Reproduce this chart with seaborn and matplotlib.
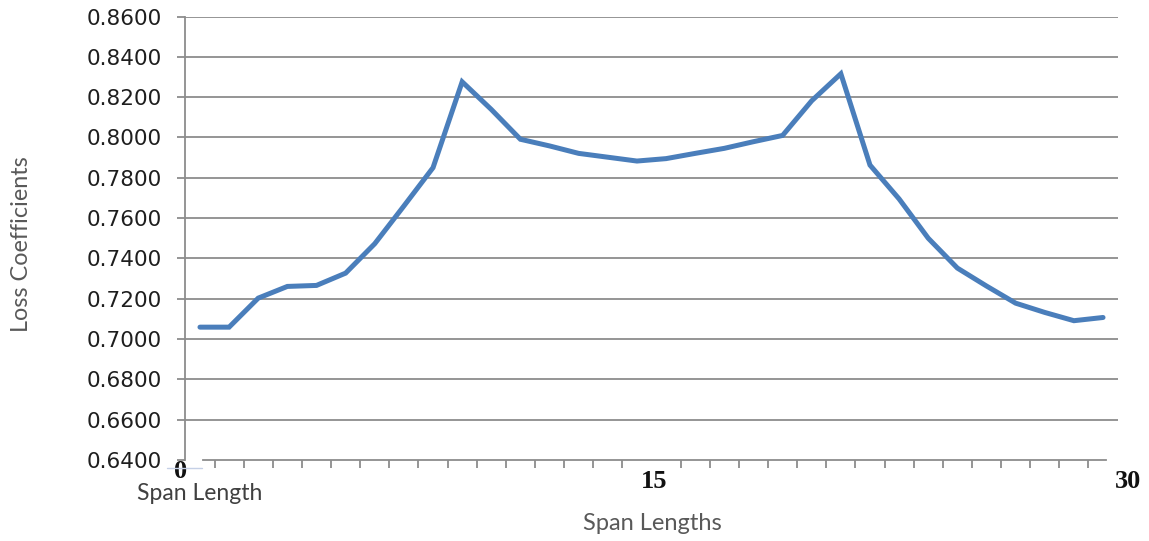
import numpy as np
import pandas as pd
import matplotlib
matplotlib.use("Agg")
import matplotlib.pyplot as plt
import matplotlib.transforms as mtransforms
from matplotlib.lines import Line2D
import seaborn as sns

# Loss coefficient for each span position along the structure
span_position = list(range(32))
loss_coefficient = [
    0.7059, 0.7059, 0.7203, 0.7261, 0.7266, 0.7327, 0.7473, 0.7660,
    0.7850, 0.8276, 0.8139, 0.7991, 0.7958, 0.7921, 0.7902, 0.7883,
    0.7895, 0.7921, 0.7946, 0.7979, 0.8010, 0.8182, 0.8316, 0.7863,
    0.7695, 0.7500, 0.7352, 0.7263, 0.7178, 0.7132, 0.7091, 0.7107,
]
y_ticks = [0.64, 0.66, 0.68, 0.70, 0.72, 0.74, 0.76, 0.78, 0.80, 0.82, 0.84, 0.86]
span_ticks = [0, 15, 30]

df = pd.DataFrame({"span": span_position, "loss": loss_coefficient})

sns.set_theme(style="white")
plt.rcParams["font.family"] = ["DejaVu Sans"]

W, H = 1149, 541
fig = plt.figure(figsize=(W / 100, H / 100), dpi=100)

grid_grey = "#8c8c8c"
title_grey = "#595959"
line_blue = "#4a7ebb"

# main plotting area
ax = fig.add_axes([185.4 / W, (H - 460) / H, (1117.6 - 185.4) / W, (460 - 16.5) / H])
sns.lineplot(data=df, x="span", y="loss", ax=ax, color=line_blue,
             linewidth=3.6, solid_joinstyle="miter", legend=False)

ax.set_xlim(-0.5, 31.5)
ax.set_ylim(0.64, 0.86)
ax.set_yticks(y_ticks)
ax.set_yticklabels([f"{v:.4f}" for v in y_ticks])
ax.tick_params(axis="y", direction="out", length=5.8, width=1.3, color=grid_grey,
               labelsize=15.5, labelcolor="#1e1e1e", pad=11, left=True)
ax.grid(axis="y", color=grid_grey, linewidth=1.3)
ax.grid(axis="x", visible=False)
ax.yaxis.get_major_ticks()[0].gridline.set_visible(False)

# category boundary ticks along the bottom axis
boundary_ticks = [i + 0.5 for i in range(31) if i != 15]
ax.set_xticks(boundary_ticks)
ax.set_xticklabels([""] * len(boundary_ticks))
ax.tick_params(axis="x", direction="out", length=5.8, width=1.3, color=grid_grey,
               bottom=True)

for side in ["top", "right"]:
    ax.spines[side].set_visible(False)
ax.spines["left"].set_color(grid_grey)
ax.spines["left"].set_linewidth(1.3)
ax.spines["bottom"].set_color(grid_grey)
ax.spines["bottom"].set_linewidth(1.3)
ax.spines["bottom"].set_bounds(0.09, 31.1)
ax.set_xlabel("")
ax.set_ylabel("")

# secondary value scale for span length labels
ax2 = fig.add_axes([181 / W, (H - 460) / H, (1128 - 181) / W, (460 - 16.5) / H])
ax2.patch.set_visible(False)
for s in ax2.spines.values():
    s.set_visible(False)
ax2.set_xlim(0, 30)
ax2.set_yticks([])
ax2.set_xticks(span_ticks)
ax2.set_xticklabels([str(t) for t in span_ticks], fontfamily="Liberation Serif",
                    fontweight="bold", fontsize=19, color="#111111")
ax2.tick_params(axis="x", length=0, pad=7)
ax2.grid(False)
lbl0 = ax2.get_xticklabels()[0]
lbl0.set_transform(lbl0.get_transform() +
                   mtransforms.ScaledTranslation(0, 10 / 100, fig.dpi_scale_trans))

# axis titles
fig.text(22 / W, 1 - 244 / H, "Loss Coefficients", rotation=90, ha="center",
         va="center", fontfamily="Lato", fontsize=16.8, color=title_grey)
fig.text(652 / W, 1 - 523 / H, "Span Lengths", ha="center", va="center",
         fontfamily="Lato", fontsize=17, color=title_grey)

# series key below the origin
fig.add_artist(Line2D([167 / W, 202 / W], [1 - 468 / H, 1 - 468 / H],
                      color="#c5d0e6", linewidth=1.0, transform=fig.transFigure))
fig.text(200 / W, 1 - 494 / H, "Span Length", ha="center", va="center",
         fontfamily="Lato", fontsize=16.5, color="#404040")

fig.savefig("out.png", dpi=100)
